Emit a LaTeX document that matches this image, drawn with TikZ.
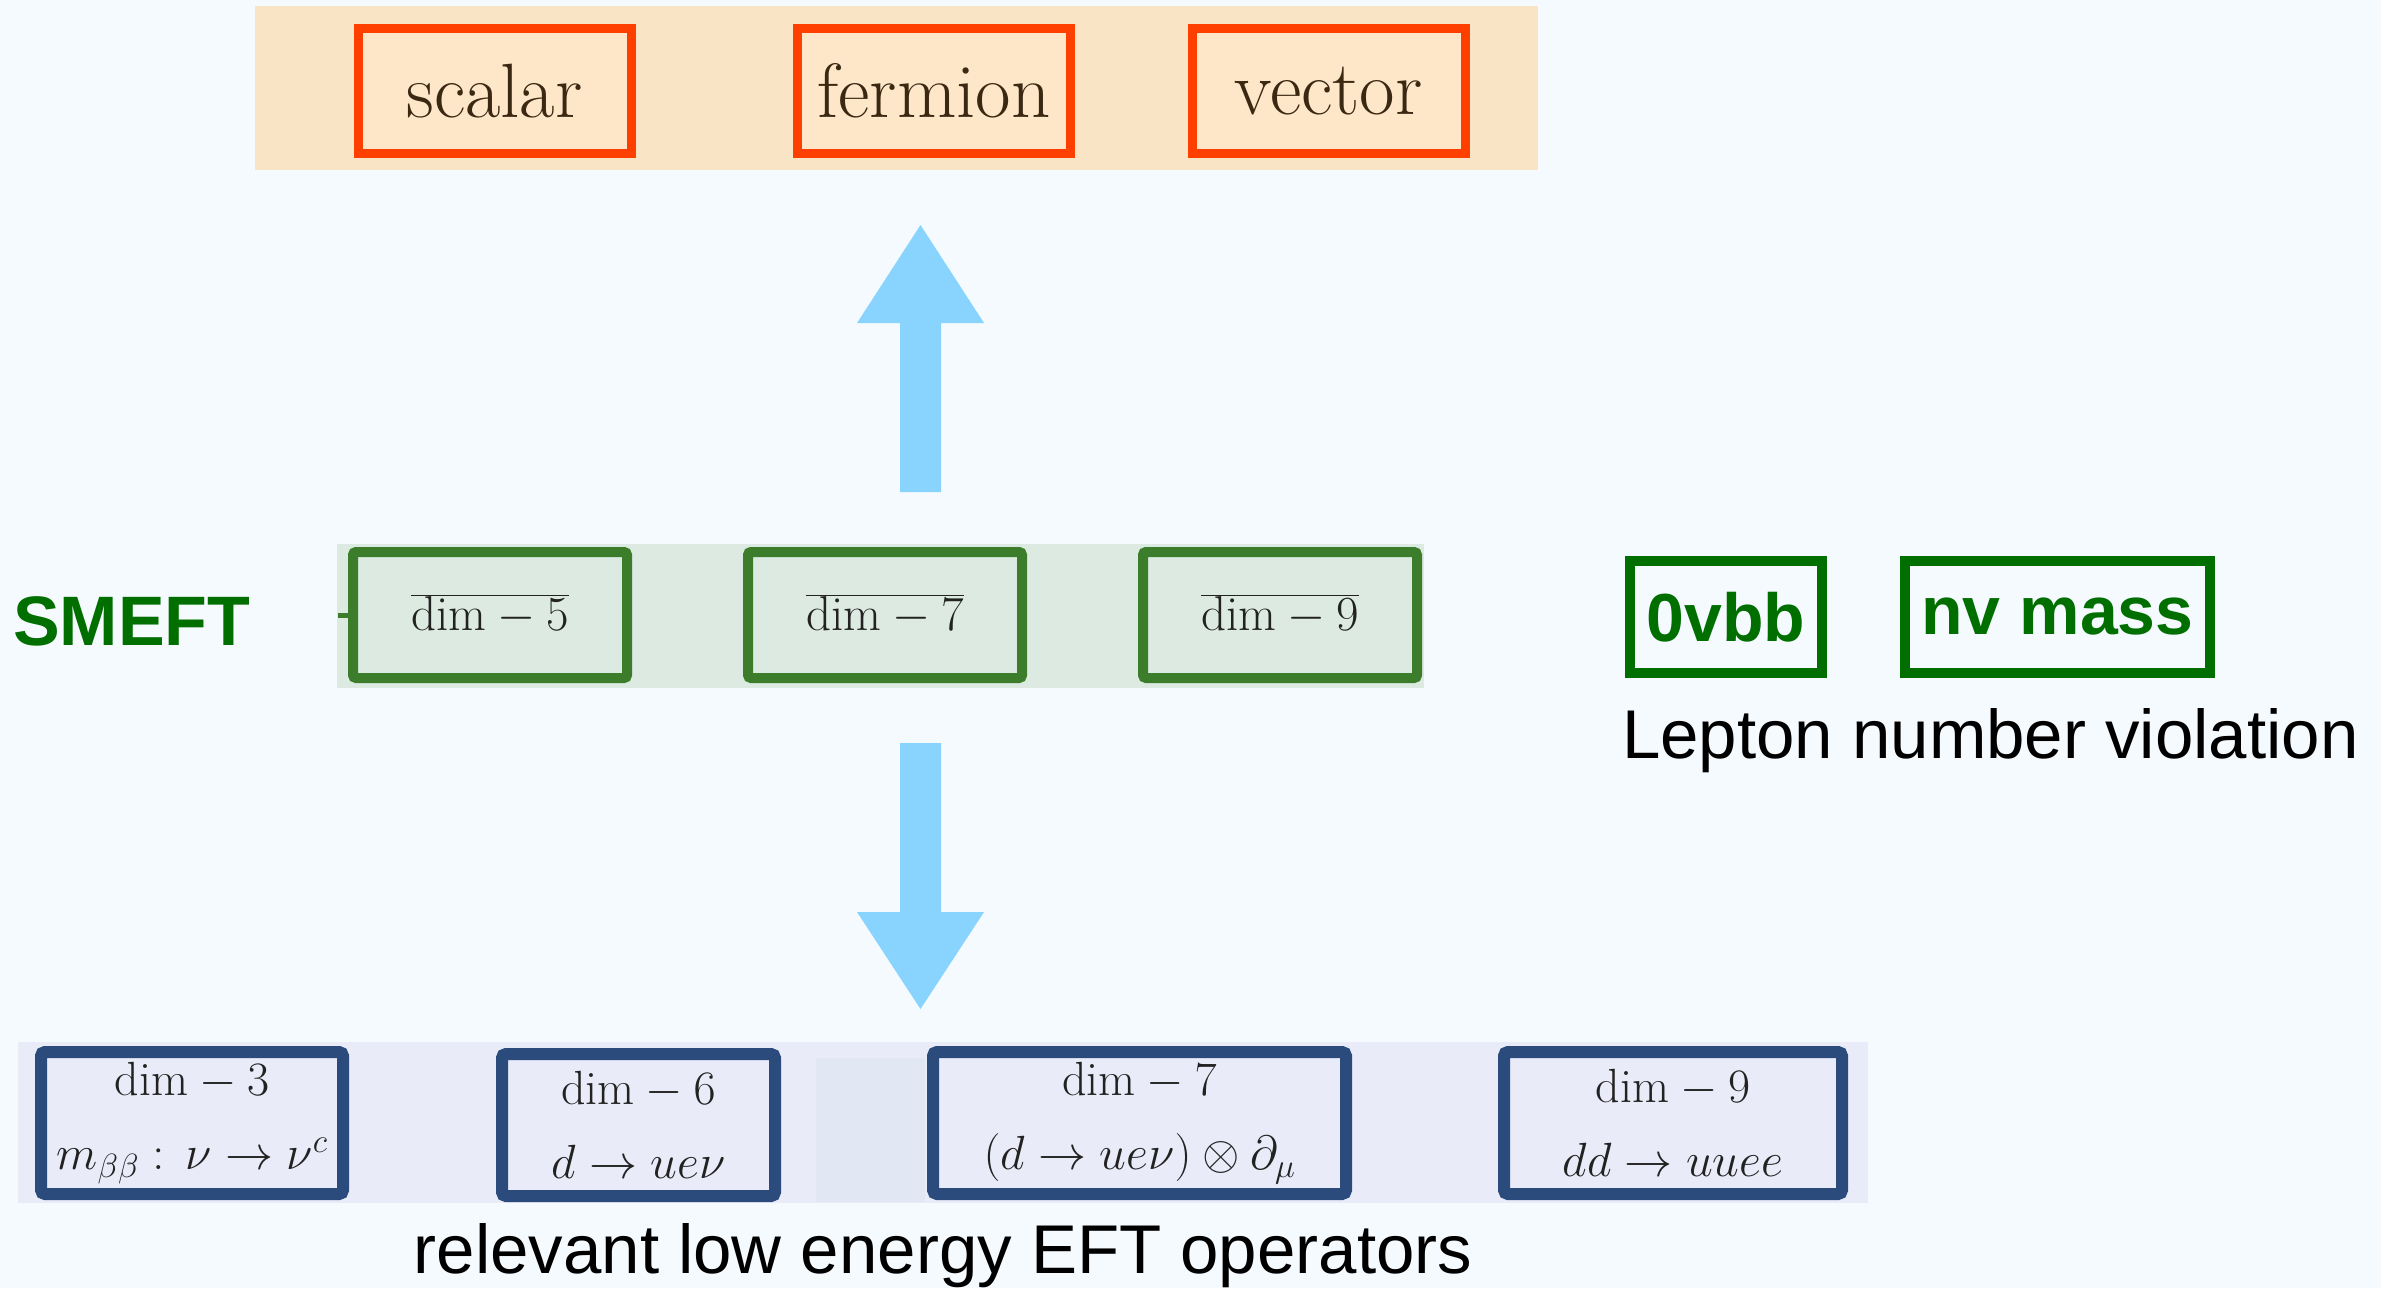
\RequirePackage{fix-cm}
\documentclass[tikz,border=0pt]{standalone}
\usepackage{fontspec}
\newfontfamily\arialfont{Liberation Sans}
\definecolor{bgc}{HTML}{F5FAFE}
\definecolor{topband}{HTML}{F9E4C6}
\definecolor{topfill}{HTML}{FEE6C8}
\definecolor{topdraw}{HTML}{FF3F00}
\definecolor{toptext}{HTML}{3A2812}
\definecolor{midband}{HTML}{DCEAE1}
\definecolor{middraw}{HTML}{3C7D2C}
\definecolor{botband}{HTML}{EAEBF8}
\definecolor{botpatch}{HTML}{E1E8F4}
\definecolor{botdraw}{HTML}{2A4B7C}
\definecolor{darkgreen}{HTML}{006F00}
\definecolor{arrowblue}{HTML}{88D4FE}
\definecolor{graytext}{HTML}{222222}
\tikzset{
  topbox/.style={draw=topdraw, fill=topfill, line width=9pt, minimum width=273pt, minimum height=125pt, inner sep=0pt, text=toptext, font=\fontsize{77}{82}\selectfont},
  midbox/.style={draw=middraw, fill=midband, line width=10pt, rounded corners=3pt, minimum width=274pt, minimum height=126pt, inner sep=0pt, text=graytext, font=\fontsize{49}{56}\selectfont},
  lnvbox/.style={draw=darkgreen, line width=10pt, minimum height=112pt, inner sep=0pt, text=darkgreen, font=\arialfont\bfseries\fontsize{68}{76}\selectfont},
  botbox/.style={draw=botdraw, fill=botband, line width=12pt, rounded corners=4pt, minimum height=142pt, inner sep=0pt, align=center, text=graytext, font=\fontsize{48}{74}\selectfont},
  bigarrow/.style={fill=arrowblue, draw=none},
  sanslabel/.style={inner sep=0pt, font=\arialfont\fontsize{69}{76}\selectfont, text=black}
}
\begin{document}
\begin{tikzpicture}[x=1pt, y=-1pt]
\fill[bgc] (0,0) rectangle (2381,1288);
\useasboundingbox (0,0) rectangle (2381,1288);
% bands
\fill[topband] (255,6) rectangle (1538,170);
\fill[midband] (337,544) rectangle (1424,688);
\fill[botband] (18,1042) rectangle (1868,1203);
\fill[botpatch] (816,1058) rectangle (925,1202);
% top boxes
\node[topbox] (scalar) at (494.5,91) {scalar};
\node[topbox] (fermion) at (934,91) {fermion};
\node[topbox] (vector) at (1328.5,91) {vector};
% SMEFT row
\node[inner sep=0pt, anchor=base west, text=darkgreen, font=\arialfont\bfseries\fontsize{70}{78}\selectfont] (smeft) at (13,645) {SMEFT};
\node[midbox] (d5) at (490,615) {$\overline{\mathrm{dim}-5}$};
\node[midbox] (d7) at (885,615) {$\overline{\mathrm{dim}-7}$};
\node[midbox] (d9) at (1280,615) {$\overline{\mathrm{dim}-9}$};
\coordinate (stub) at (338,615);
\draw[middraw, line width=5pt] (stub) -- (d5.west);
% LNV
\node[lnvbox, minimum width=192pt] (obb) at (1726,617) {0vbb};
\node[lnvbox, minimum width=305pt] (nvm) at (2057.5,617) {nv mass};
\node[sanslabel, anchor=base west] (lnv) at (1622,758) {Lepton number violation};
% arrows
\coordinate (ua) at (920.5,225);
\fill[bigarrow] (ua) -- (984,323) -- (941,323) -- (941,492) -- (900,492) -- (900,323) -- (857,323) -- cycle;
\coordinate (da) at (920.5,1009);
\fill[bigarrow] (da) -- (984,912) -- (941,912) -- (941,743) -- (900,743) -- (900,912) -- (857,912) -- cycle;
% bottom boxes
\node[botbox, minimum width=302pt] (b3) at (192,1123) {$\mathrm{dim}-3$\\$m_{\beta\beta}:\,\nu\rightarrow\nu^{c}$};
\node[botbox, minimum width=273pt] (b6) at (638.5,1125) {$\mathrm{dim}-6$\\$d\rightarrow ue\nu$};
\node[botbox, minimum width=413pt] (b7) at (1139.5,1123) {$\mathrm{dim}-7$\\$(d\rightarrow ue\nu)\otimes\partial_{\mu}$};
\node[botbox, minimum width=338pt] (b9) at (1673,1123) {$\mathrm{dim}-9$\\$dd\rightarrow uuee$};
\node[sanslabel, anchor=base] (rel) at (943,1273) {relevant low energy EFT operators};
\end{tikzpicture}
\end{document}
